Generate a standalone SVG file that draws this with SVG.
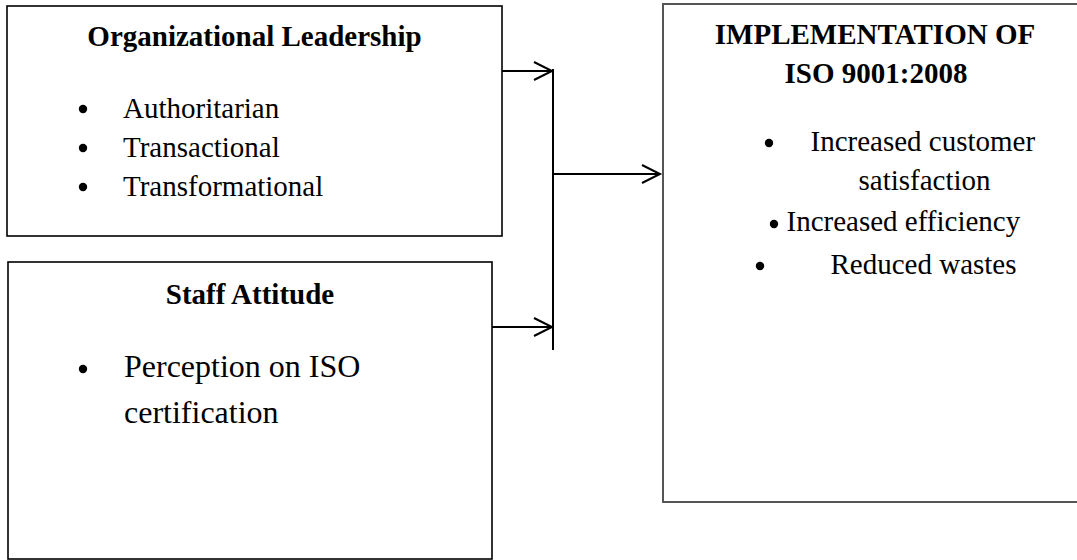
<svg xmlns="http://www.w3.org/2000/svg" width="1077" height="560" viewBox="0 0 1077 560">
  <style>
    .box { fill: #ffffff; stroke: #000000; stroke-width: 1.6; }
    .box-out { fill: #ffffff; stroke: #555555; stroke-width: 2; }
    .title { font-family: "Liberation Serif", "Times New Roman", serif; font-weight: bold; font-size: 29px; fill: #000000; text-anchor: middle; }
    .item { font-family: "Liberation Serif", "Times New Roman", serif; font-size: 29px; fill: #000000; }
    .item-lg { font-family: "Liberation Serif", "Times New Roman", serif; font-size: 32px; fill: #000000; }
    .dot { fill: #000000; }
    .link { stroke: #000000; stroke-width: 2; fill: none; }
  </style>
  <defs>
    <marker id="chevron" markerUnits="userSpaceOnUse" markerWidth="24" markerHeight="24" viewBox="-20 -12 24 24" refX="0" refY="0" orient="auto">
      <path d="M-18,-9 L0,0 L-18,9" fill="none" stroke="#000000" stroke-width="2"/>
    </marker>
  </defs>

  <rect width="1077" height="560" fill="#ffffff"/>

  <!-- Leadership styles -->
  <g id="leadership">
    <rect class="box" x="7" y="6" width="495" height="230"/>
    <text class="title" x="254.5" y="46">Organizational Leadership</text>
    <circle class="dot" cx="83" cy="109" r="4.2"/>
    <text class="item" x="123" y="118">Authoritarian</text>
    <circle class="dot" cx="83" cy="148" r="4.2"/>
    <text class="item" x="123" y="157">Transactional</text>
    <circle class="dot" cx="83" cy="187" r="4.2"/>
    <text class="item" x="123" y="196">Transformational</text>
  </g>

  <!-- Staff attitude -->
  <g id="staff-attitude">
    <rect class="box" x="8" y="262" width="484" height="297"/>
    <text class="title" x="250" y="304">Staff Attitude</text>
    <circle class="dot" cx="83" cy="369" r="4.2"/>
    <text class="item-lg" x="124" y="377">Perception on ISO</text>
    <text class="item-lg" x="124" y="423">certification</text>
  </g>

  <!-- Outcome -->
  <g id="implementation">
    <rect class="box-out" x="663" y="4" width="430" height="498"/>
    <text class="title" x="875" y="43.5">IMPLEMENTATION OF</text>
    <text class="title" x="876" y="83">ISO 9001:2008</text>
    <circle class="dot" cx="769" cy="143" r="4.2"/>
    <text class="item" x="810.5" y="151">Increased customer</text>
    <text class="item" x="858.5" y="189.5">satisfaction</text>
    <circle class="dot" cx="774" cy="224" r="4.2"/>
    <text class="item" x="786.5" y="231">Increased efficiency</text>
    <circle class="dot" cx="760" cy="266" r="4.2"/>
    <text class="item" x="830.5" y="274">Reduced wastes</text>
  </g>

  <!-- Connectors -->
  <g id="connectors">
    <line class="link" x1="502" y1="71" x2="552" y2="71" marker-end="url(#chevron)"/>
    <line class="link" x1="492" y1="327" x2="552" y2="327" marker-end="url(#chevron)"/>
    <line class="link" x1="553" y1="69" x2="553" y2="350"/>
    <line class="link" x1="553" y1="174" x2="660" y2="174" marker-end="url(#chevron)"/>
  </g>
</svg>
